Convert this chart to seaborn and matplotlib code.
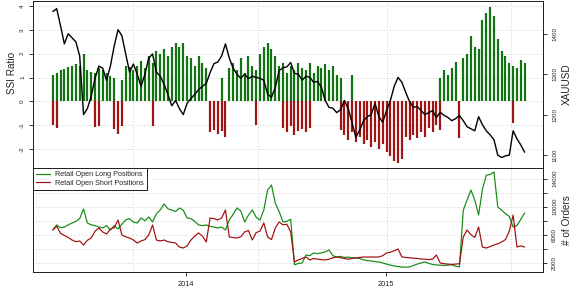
import numpy as np
import pandas as pd
import matplotlib
matplotlib.use("Agg")
import matplotlib.pyplot as plt
import matplotlib.dates as mdates
from matplotlib.lines import Line2D
import seaborn as sns

# ---------------- data (weekly) ----------------
dates = pd.date_range("2013-05-03", periods=124, freq="7D")

ssi_long = [
    1.1, 1.2, 1.3, 1.35, 1.45, 1.5, 1.55, 1.5, 2.0, 1.3,
    1.25, 1.2, 1.4, 1.3, 1.2, 1.05, 1.0, 0, 0.9, 1.5,
    1.45, 1.3, 1.5, 1.7, 1.4, 1.9, 1.6, 2.1, 2.0, 2.2,
    1.9, 2.3, 2.45, 2.3, 2.45, 1.9, 1.8, 1.5, 1.9, 1.6,
    1.4, 0, 0, 0, 1.0, 0, 1.4, 1.6, 1.3, 1.8,
    1.2, 1.9, 1.5, 1.3, 2.0, 2.3, 2.45, 2.2, 1.9, 1.5,
    1.6, 1.2, 1.5, 1.3, 1.6, 1.4, 1.3, 1.6, 1.2, 1.5,
    1.4, 1.55, 1.3, 1.5, 1.1, 1.0, 0, 0, 1.1, 0,
    0, 0, 0, 0, 0, 0, 0, 0, 0, 0,
    0, 0, 0, 0, 0, 0, 0, 0, 0, 0,
    0, 1.0, 1.3, 1.1, 1.4, 1.65, 0, 1.8, 2.0, 2.75,
    2.3, 2.2, 3.4, 3.7, 3.95, 3.6, 2.6, 2.1, 1.9, 1.6,
    1.5, 1.4, 1.75, 1.6,
]

ssi_short = [
    -1.0, -1.12, 0, 0, 0, 0, 0, 0, 0, 0,
    0, -1.08, -1.02, 0, 0, 0, -1.15, -1.35, -1.05, 0,
    0, 0, 0, 0, 0, 0, -1.05, 0, 0, 0,
    0, 0, 0, 0, 0, 0, 0, 0, 0, 0,
    0, -1.3, -1.2, -1.35, -1.25, -1.5, 0, 0, 0, 0,
    0, 0, 0, -1.0, 0, 0, 0, 0, 0, 0,
    -1.1, -1.3, -1.05, -1.4, -1.25, -1.15, -1.3, -1.1, 0, 0,
    0, 0, 0, 0, 0, -1.2, -1.4, -1.6, -1.3, -1.7,
    -1.5, -1.8, -1.6, -1.9, -1.7, -2.0, -1.8, -2.1, -2.3, -2.5,
    -2.6, -2.4, -1.5, -1.6, -1.4, -1.55, -1.3, -1.5, -1.1, -1.3,
    -1.0, -1.2, 0, 0, 0, 0, -1.55, 0, 0, 0,
    0, 0, 0, 0, 0, 0, 0, 0, 0, 0,
    -0.9, 0, 0, 0,
]

xauusd = [
    1455, 1462, 1420, 1375, 1400, 1390, 1380, 1345, 1200, 1215,
    1245, 1290, 1320, 1315, 1285, 1320, 1370, 1410, 1395, 1350,
    1305, 1325, 1300, 1270, 1300, 1340, 1350, 1305, 1295, 1275,
    1250, 1222, 1235, 1215, 1200, 1228, 1240, 1250, 1262, 1270,
    1277, 1304, 1326, 1330, 1345, 1375, 1340, 1315, 1300, 1290,
    1300, 1289, 1295, 1292, 1290, 1285, 1250, 1243, 1267, 1309,
    1316, 1318, 1329, 1302, 1300, 1285, 1295, 1292, 1280, 1282,
    1268, 1235, 1218, 1216, 1205, 1212, 1235, 1215, 1180, 1144,
    1162, 1185, 1195, 1200, 1228, 1195, 1181, 1210, 1235, 1270,
    1292, 1280, 1255, 1232, 1218, 1220, 1210, 1200, 1205, 1210,
    1193, 1206, 1198, 1193, 1185, 1190, 1198, 1185, 1170, 1165,
    1160, 1195, 1175, 1160, 1150, 1138, 1100, 1094, 1098, 1100,
    1160, 1140, 1125, 1107,
]

long_orders = [
    6670, 7390, 7000, 7100, 7400, 7670, 7900, 8300, 9670, 7670,
    7400, 7300, 7100, 6960, 7300, 6670, 7300, 6800, 7500, 8100,
    8300, 7800, 7670, 8390, 8000, 8530, 7820, 9000, 9530, 10390,
    9700, 9530, 9300, 9820, 9500, 8390, 8300, 7900, 7390, 7300,
    7390, 7200, 7100, 6960, 7100, 6670, 8100, 8900, 9820, 9400,
    7820, 8800, 9530, 8500, 8100, 9530, 12390, 13100, 10500, 9300,
    7820, 7900, 8200, 1700, 1900, 1960, 3100, 3000, 3390, 3300,
    3400, 3530, 3820, 3000, 2820, 2900, 2750, 2800, 2700, 2670,
    2600, 2400, 2300, 2240, 2150, 2100, 1960, 1800, 1650, 1530,
    1450, 1390, 1350, 1400, 1600, 1800, 1960, 2100, 1900, 1750,
    1670, 1650, 1600, 1650, 1700, 1500, 1390, 9500, 10960, 12390,
    10960, 8820, 12500, 14500, 14600, 14960, 9960, 9500, 9000, 8600,
    7100, 7300, 8200, 9100,
]

short_orders = [
    6670, 7200, 6200, 5900, 5600, 5240, 5000, 5100, 4530, 5200,
    5530, 6500, 6960, 6390, 6100, 6800, 7000, 8100, 5960, 5700,
    5530, 5240, 4820, 5100, 5300, 5960, 7390, 5240, 5100, 5240,
    5000, 4900, 4820, 4240, 4100, 4400, 5240, 5800, 6250, 5800,
    4960, 8390, 8300, 8100, 8400, 9530, 5680, 5600, 5530, 5700,
    6390, 6600, 5240, 6300, 6500, 7670, 5680, 5300, 6960, 7820,
    7400, 7500, 6390, 2100, 2400, 2600, 2820, 2390, 2600, 2500,
    2450, 2390, 2500, 2700, 2820, 2700, 2600, 2500, 2600, 2700,
    2750, 2820, 2800, 2820, 2800, 2820, 3000, 3390, 3500, 3700,
    3960, 2820, 2750, 2700, 2650, 2600, 2530, 2500, 2450, 2500,
    3100, 1960, 1850, 1800, 1750, 1800, 1850, 5680, 6670, 6000,
    5600, 7100, 4240, 4100, 4300, 4530, 4700, 4960, 5300, 6500,
    8800, 4240, 4400, 4240,
]

year_ticks = ["2014-01-01", "2015-01-01"]
year_labels = ["2014", "2015"]
ssi_ticks = [-2, -1, 0, 1, 2, 3, 4]
price_ticks = [1100, 1200, 1300, 1400]
order_ticks = [2000, 4000, 6000, 8000, 10000, 12000, 14000]
order_labels = ["2000", "", "6000", "", "10000", "", "14000"]
vgrid_dates = ["2013-09-27", "2014-05-12", "2015-01-02", "2015-08-18"]
legend_labels = ["Retail Open Long Positions", "Retail Open Short Positions"]

# ---------------- styling ----------------
sns.set_style("ticks")
plt.rcParams["font.family"] = ["Liberation Sans", "DejaVu Sans"]

GREEN_BAR = "#137313"
RED_BAR = "#a11414"
GREEN_LINE = "#148a14"
RED_LINE = "#9e0f0f"
GRID = "#c9c9c9"
SPINE = "#222222"

W, H = 576, 288
fig = plt.figure(figsize=(W / 72, H / 72), dpi=72)
ax1 = fig.add_axes([33 / W, 1 - 168 / H, 510 / W, 167 / H])
ax3 = fig.add_axes([33 / W, 1 - 272 / H, 510 / W, 104 / H], sharex=ax1)

d0 = mdates.date2num(pd.Timestamp("2014-01-01"))
d1 = mdates.date2num(pd.Timestamp("2015-01-01"))
px_day = (d1 - d0) / 200.0
xlim = (d0 + (33 - 186) * px_day, d1 + (543 - 386) * px_day)

# ---- top panel: SSI bars ----
long_arr = np.array(ssi_long, dtype=float)
short_arr = np.array(ssi_short, dtype=float)
dnum = mdates.date2num(dates)
m = long_arr > 0
ax1.vlines(dnum[m], 0, long_arr[m], color=GREEN_BAR, lw=2.2, zorder=2)
m = short_arr < 0
ax1.vlines(dnum[m], 0, short_arr[m], color=RED_BAR, lw=2.2, zorder=2)
ax1.set_ylim(-2.79, 4.21)
ax1.set_yticks(ssi_ticks)
ax1.set_yticklabels([str(t) for t in ssi_ticks])
ax1.yaxis.grid(True, ls=(0, (1, 2)), color=GRID, lw=0.9)
for g in vgrid_dates:
    ax1.axvline(mdates.date2num(pd.Timestamp(g)), ls=(0, (1, 2)), color=GRID, lw=0.9, zorder=0)
    ax3.axvline(mdates.date2num(pd.Timestamp(g)), ls=(0, (1, 2)), color=GRID, lw=0.9, zorder=0)
ax1.set_ylabel("SSI Ratio", fontsize=10)
ax1.yaxis.set_label_coords(-0.031, 0.57)
ax1.tick_params(axis="x", bottom=False, labelbottom=False)
ax1.tick_params(axis="y", left=True, direction="out", length=4, width=0.9,
                labelsize=6.3, labelrotation=90, pad=4, colors=SPINE)
for lab in ax1.get_yticklabels():
    lab.set_va("center")

# ---- XAUUSD on a twin axis ----
ax2 = ax1.twinx()
sns.lineplot(x=dates, y=xauusd, ax=ax2, color="black", lw=1.4, zorder=5)
ax2.set_ylim(1068, 1481)
ax2.set_yticks(price_ticks)
ax2.set_yticklabels([str(t) for t in price_ticks])
ax2.set_ylabel("XAUUSD", fontsize=10)
ax2.yaxis.set_label_coords(1.037, 0.5)
ax2.tick_params(axis="y", right=True, direction="out", length=4, width=0.9,
                labelsize=6.3, labelrotation=90, pad=5, colors=SPINE)
for lab in ax2.get_yticklabels():
    lab.set_va("center")
ax2.tick_params(axis="x", bottom=False, labelbottom=False)
ax2.set_xlabel("")

# ---- bottom panel: orders ----
sns.lineplot(x=dates, y=long_orders, ax=ax3, color=GREEN_LINE, lw=1.2)
sns.lineplot(x=dates, y=short_orders, ax=ax3, color=RED_LINE, lw=1.2)
ax3.set_ylim(670, 15530)
ax3.yaxis.tick_right()
ax3.yaxis.set_label_position("right")
ax3.set_yticks(order_ticks)
ax3.set_yticklabels(order_labels)
ax3.yaxis.grid(True, ls=(0, (1, 2)), color=GRID, lw=0.9)
ax3.set_ylabel("# of Orders", fontsize=10)
ax3.yaxis.set_label_coords(1.037, 0.5)
ax3.tick_params(axis="y", left=False, right=True, direction="out", length=4,
                width=0.9, labelsize=6.3, labelrotation=90, pad=5, colors=SPINE)
for lab in ax3.get_yticklabels():
    lab.set_va("center")
ax3.set_xticks([mdates.date2num(pd.Timestamp(t)) for t in year_ticks])
ax3.set_xticklabels(year_labels)
ax3.tick_params(axis="x", bottom=True, direction="out", length=4, width=0.9,
                labelsize=7.4, pad=5, colors=SPINE)
ax3.set_xlabel("")
ax3.set_xlim(*xlim)

for ax in (ax1, ax2, ax3):
    for s in ax.spines.values():
        s.set_visible(True)
        s.set_color(SPINE)
        s.set_linewidth(1.0)

handles = [Line2D([0], [0], color=GREEN_LINE, lw=1.2),
           Line2D([0], [0], color=RED_LINE, lw=1.2)]
leg = ax3.legend(handles, legend_labels, loc="upper left", bbox_to_anchor=(0, 1),
                 borderaxespad=0, fontsize=7.2, frameon=True, fancybox=False,
                 edgecolor=SPINE, framealpha=1, handlelength=1.9,
                 handletextpad=0.7, borderpad=0.45, labelspacing=0.2)
leg.get_frame().set_linewidth(1.0)
leg.set_zorder(10)

fig.savefig("out.png", dpi=72)
